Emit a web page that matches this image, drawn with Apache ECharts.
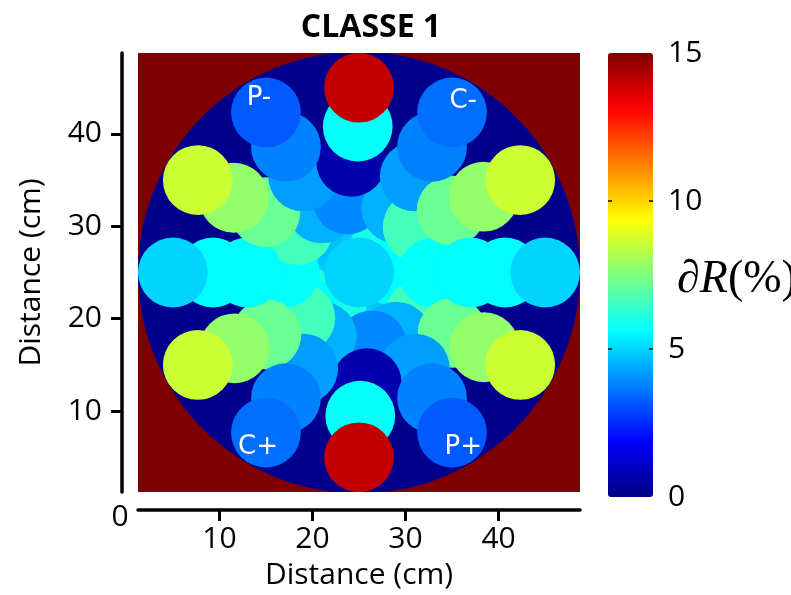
<!DOCTYPE html>
<html><head><meta charset="utf-8">
<script src="https://cdn.jsdelivr.net/npm/echarts@6/dist/echarts.min.js"></script>
<style>html,body{margin:0;padding:0;background:#fff}#c{width:791px;height:595px}</style>
</head><body><div id="c"></div>
<script>
// ---------------- data ----------------
const titleText = 'CLASSE 1';
const axisTickValues = [10, 20, 30, 40];
const colorbarTickValues = [5, 10];
const colorbarMin = 0;
const colorbarMax = 15;
const axisMin = 1.25;
const axisMax = 48.75;
const phantomCentre = [25, 25];
const phantomRadius = 23.75;
const backgroundValue = 15;
const phantomValue = 0.2;
const insertRadius = 3.75;
// inserts drawn in this order: ring 4 cm, 8 cm, 12 cm, 16 cm, 20 cm, then the centre insert
const insertAngle = [
  320, 300, 285, 240, 225, 180, 140, 120, 105, 60, 45, 0,
  325, 300, 280, 240, 218, 180, 145, 120, 99, 60, 38, 0,
  327, 300, 274, 240, 214, 180, 147, 120, 94, 60, 34, 0,
  329, 300, 270.5, 240, 211.5, 180, 149, 120, 90.5, 60, 31.5, 0,
  330, 300, 270, 240, 210, 180, 150, 120, 90, 60, 30, 0,
  0
];
const insertDist = [
  4, 4, 4, 4, 4, 4, 4, 4, 4, 4, 4, 4,
  8, 8, 8, 8, 8, 8, 8, 8, 8, 8, 8, 8,
  12, 12, 12, 12, 12, 12, 12, 12, 12, 12, 12, 12,
  15.7, 15.7, 15.5, 15.7, 15.7, 15.7, 15.7, 15.7, 15.8, 15.7, 15.7, 15.7,
  20, 20, 20, 20, 20, 20, 20, 20, 20, 20, 20, 20,
  0
];
const insertValue = [
  6.0, 4.8, 4.7, 4.8, 6.0, 5.6, 6.0, 4.8, 4.7, 4.8, 6.0, 5.6,
  6.6, 4.5, 3.9, 4.5, 6.6, 5.7, 6.6, 4.5, 3.9, 4.5, 6.6, 5.7,
  7.2, 4.2, 0.7, 4.2, 7.2, 5.6, 7.2, 4.2, 0.7, 4.2, 7.2, 5.6,
  7.8, 3.8, 5.7, 3.8, 7.8, 5.6, 7.8, 3.8, 5.7, 3.8, 7.8, 5.6,
  8.6, 3.2, 14.0, 3.5, 8.6, 5.0, 8.6, 3.2, 14.0, 3.5, 8.6, 5.0,
  5.0
];
const labelNames = ['P-', 'C-', 'C+', 'P+'];
const labelX = [14.25, 36.2, 14.15, 36.2];
const labelY = [43.9, 43.5, 6.1, 6.1];

// jet colormap
const jet = ['#00007F', '#0000FF', '#007FFF', '#00FFFF', '#7FFF7F', '#FFFF00', '#FF7F00', '#FF0000', '#7F0000'];

// ---------------- build ----------------
const bgData = [[phantomCentre[0], phantomCentre[1], (axisMax - axisMin) / 2, backgroundValue]];
const circleData = [[phantomCentre[0], phantomCentre[1], phantomRadius, phantomValue]];
insertAngle.forEach((a, i) => {
  const rad = a * Math.PI / 180;
  circleData.push([
    phantomCentre[0] + insertDist[i] * Math.cos(rad),
    phantomCentre[1] + insertDist[i] * Math.sin(rad),
    insertRadius,
    insertValue[i]
  ]);
});
const labelData = labelNames.map((n, i) => [labelX[i], labelY[i], n]);
const cbTickData = colorbarTickValues.map(v => [0, v]);

const FONT = 'Open Sans';
const chart = echarts.init(document.getElementById('c'), null, {renderer: 'canvas'});
chart.setOption({
  animation: false,
  backgroundColor: '#fff',
  title: {
    text: titleText, left: 366, top: 7, textAlign: 'center',
    textStyle: {fontFamily: FONT, fontWeight: 'bold', fontSize: 32, color: '#000'}
  },
  grid: [
    {left: 138, top: 53, width: 442, height: 442},
    {left: 608, top: 53, width: 45, height: 444}
  ],
  xAxis: [
    {
      type: 'value', gridIndex: 0, min: axisMin, max: axisMax, offset: 18,
      axisLine: {show: true, onZero: false, lineStyle: {color: '#000', width: 3.5}},
      axisTick: {show: true, customValues: axisTickValues, length: 11, lineStyle: {color: '#000', width: 3}},
      axisLabel: {customValues: axisTickValues, fontFamily: FONT, fontSize: 30, color: '#000', margin: 14},
      splitLine: {show: false},
      name: 'Distance (cm)', nameLocation: 'middle', nameGap: 50,
      nameTextStyle: {fontFamily: FONT, fontSize: 30, color: '#000'}
    },
    {type: 'value', gridIndex: 1, show: false, min: 0, max: 1}
  ],
  yAxis: [
    {
      type: 'value', gridIndex: 0, min: axisMin, max: axisMax, offset: 16,
      axisLine: {show: true, onZero: false, lineStyle: {color: '#000', width: 3.5}},
      axisTick: {show: true, customValues: axisTickValues, length: 11, lineStyle: {color: '#000', width: 3}},
      axisLabel: {customValues: axisTickValues, fontFamily: FONT, fontSize: 30, color: '#000', margin: 20},
      splitLine: {show: false},
      name: 'Distance (cm)', nameLocation: 'middle', nameGap: 76, nameRotate: 90,
      nameTextStyle: {fontFamily: FONT, fontSize: 30, color: '#000'}
    },
    {
      type: 'value', gridIndex: 1, min: colorbarMin, max: colorbarMax, interval: 5, position: 'right',
      axisLine: {show: false},
      axisTick: {show: false},
      axisLabel: {fontFamily: FONT, fontSize: 30, color: '#000', margin: 15},
      splitLine: {show: false}
    }
  ],
  visualMap: {
    type: 'continuous', min: colorbarMin, max: colorbarMax, dimension: 3, seriesIndex: [0, 1],
    orient: 'vertical', left: 608, top: 53, itemWidth: 45, itemHeight: 444,
    padding: 0, calculable: false, hoverLink: false, text: null,
    inRange: {color: jet}
  },
  graphic: {
    elements: [
      {type: 'text', x: 120, y: 517, style: {text: '0', fill: '#000', font: '30px "Open Sans"', align: 'center', verticalAlign: 'middle'}},
      {type: 'text', x: 737, y: 280, style: {
        text: '{i|∂R}{n|(%)}', align: 'center', verticalAlign: 'middle',
        rich: {
          i: {fontFamily: 'Liberation Serif', fontStyle: 'italic', fontSize: 46, fill: '#000'},
          n: {fontFamily: 'Liberation Serif', fontSize: 46, fill: '#000'}
        }
      }}
    ]
  },
  series: [
    {
      type: 'custom', xAxisIndex: 0, yAxisIndex: 0, data: bgData, clip: true, silent: true,
      renderItem: function (params, api) {
        const h = api.value(2);
        const p = api.coord([api.value(0) - h, api.value(1) + h]);
        const s = api.size([2 * h, 2 * h]);
        return {type: 'rect', shape: {x: p[0], y: p[1], width: s[0], height: s[1]}, style: {fill: api.visual('color')}};
      }
    },
    {
      type: 'custom', xAxisIndex: 0, yAxisIndex: 0, data: circleData, clip: true, silent: true,
      renderItem: function (params, api) {
        const c = api.coord([api.value(0), api.value(1)]);
        const s = api.size([api.value(2), api.value(2)]);
        return {type: 'circle', shape: {cx: c[0], cy: c[1], r: s[0]}, style: {fill: api.visual('color')}};
      }
    },
    {
      type: 'scatter', xAxisIndex: 0, yAxisIndex: 0, data: labelData, symbolSize: 1, silent: true, z: 5,
      itemStyle: {color: 'rgba(0,0,0,0)'},
      label: {show: true, position: 'inside', formatter: p => p.data[2], color: '#fff', opacity: 1, fontFamily: 'DejaVu Sans', fontSize: 26}
    },
    {
      // colorbar tick marks on both edges of the bar
      type: 'custom', xAxisIndex: 1, yAxisIndex: 1, data: cbTickData, silent: true, zlevel: 1,
      renderItem: function (params, api) {
        const l = api.coord([0, api.value(1)]);
        const r = api.coord([1, api.value(1)]);
        const st = {stroke: '#000', lineWidth: 1.5};
        return {type: 'group', children: [
          {type: 'line', shape: {x1: l[0], y1: l[1], x2: l[0] + 4, y2: l[1]}, style: st},
          {type: 'line', shape: {x1: r[0] - 4, y1: r[1], x2: r[0], y2: r[1]}, style: st}
        ]};
      }
    }
  ]
});
</script></body></html>
